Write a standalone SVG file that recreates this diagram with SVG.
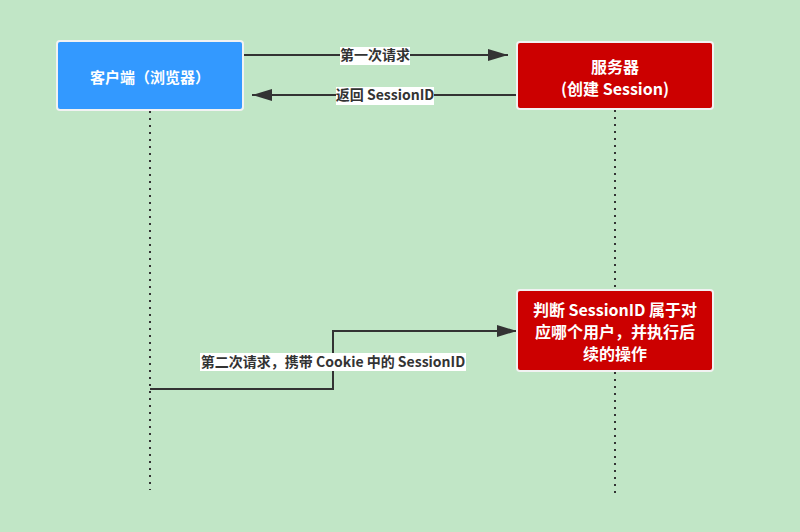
<svg xmlns="http://www.w3.org/2000/svg" width="800" height="532" viewBox="0 0 800 532">
<defs>
<marker id="arr" markerWidth="20" markerHeight="12" refX="20" refY="6" orient="auto" markerUnits="userSpaceOnUse">
<path d="M0,0 L20,6 L0,12 Z" fill="#333333"/>
</marker>
<style>
.node rect{stroke:#f2f2f2;stroke-width:2}
.nt{font-family:"Noto Sans CJK SC","Liberation Sans",sans-serif;font-size:16px;font-weight:bold;fill:#ffffff;text-anchor:middle}
.life{stroke:#333333;stroke-width:2;stroke-dasharray:2 5;fill:none}
.msg{stroke:#333333;stroke-width:2;fill:none;marker-end:url(#arr)}
.lbl{font-family:"Noto Sans CJK SC","Liberation Sans",sans-serif;font-size:14px;font-weight:bold;fill:#333333;text-anchor:middle}
.lblbg{fill:#ffffff}
</style>
</defs>
<rect x="0" y="0" width="800" height="532" fill="#c1e6c6"/>
<g id="connectors">
<line class="life" x1="150" y1="111" x2="150" y2="490"/>
<line class="life" x1="615" y1="110" x2="615" y2="290"/>
<line class="life" x1="615" y1="372" x2="615" y2="497"/>
<line class="msg" x1="243" y1="55" x2="508" y2="55"/>
<line class="msg" x1="517" y1="95" x2="252" y2="95"/>
<polyline class="msg" points="150,389 333,389 333,331 517,331"/>
<rect class="lblbg" x="340" y="47" width="70" height="18"/>
<text class="lbl" x="375" y="60">第一次请求</text>
<rect class="lblbg" x="336" y="87" width="98" height="18"/>
<text class="lbl" x="385" y="100">返回 SessionID</text>
<rect class="lblbg" x="200" y="353" width="266" height="18"/>
<text class="lbl" x="333" y="367">第二次请求，携带 Cookie 中的 SessionID</text>
</g>
<g id="client" class="node">
<rect x="57" y="41" width="186" height="69" rx="3" fill="#3399ff"/>
<text class="nt" x="150" y="83" style="font-size:15px">客户端（浏览器）</text>
</g>
<g id="server" class="node">
<rect x="517" y="42" width="196" height="67" rx="3" fill="#cc0000"/>
<text class="nt" x="615" y="73">服务器</text>
<text class="nt" x="615" y="95">(创建 Session)</text>
</g>
<g id="judge" class="node">
<rect x="517" y="290" width="196" height="81" rx="3" fill="#cc0000"/>
<text class="nt" x="615" y="316">判断 SessionID 属于对</text>
<text class="nt" x="615" y="338">应哪个用户，并执行后</text>
<text class="nt" x="615" y="360">续的操作</text>
</g>
</svg>
